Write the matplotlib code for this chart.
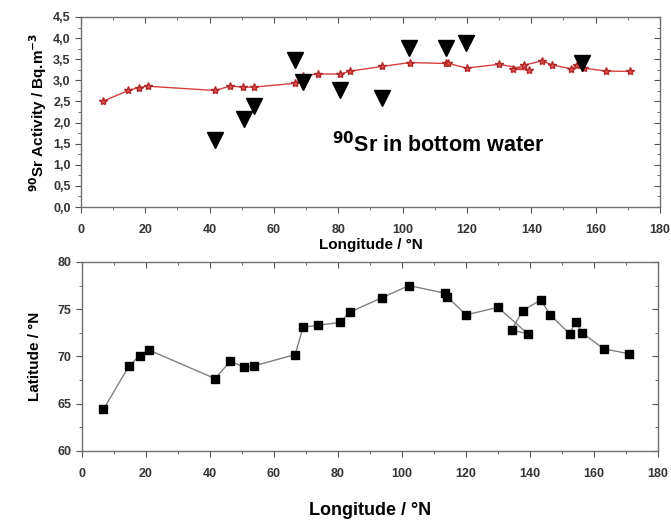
import numpy as np
import matplotlib
matplotlib.use('Agg')
import matplotlib.pyplot as plt
from matplotlib.ticker import MultipleLocator, FuncFormatter

plt.rcParams['font.family'] = ['Liberation Sans', 'DejaVu Sans']
plt.rcParams['font.weight'] = 'bold'

# station longitudes (in drawing order of the lines)
lon = [6.7, 14.7, 18.1, 20.8, 41.6, 46.3, 50.5, 53.75, 66.6, 69.1, 73.7, 80.6, 83.75,
       93.6, 102.2, 113.4, 114.2, 120.0, 130.0, 139.3, 134.3, 137.7, 143.4, 146.3,
       152.4, 154.3, 156.25, 163.1, 170.8]

# 90Sr activity (red stars)
sr_act = [2.50, 2.76, 2.83, 2.86, 2.76, 2.86, 2.84, 2.84, 2.93, 3.11, 3.15, 3.15, 3.22,
          3.33, 3.42, 3.40, 3.40, 3.29, 3.38, 3.25, 3.26, 3.36, 3.46, 3.37,
          3.27, 3.37, 3.29, 3.22, 3.21]

# latitude of the stations (squares)
lat = [64.4, 69.0, 70.1, 70.7, 67.65, 69.5, 68.9, 69.0, 70.2, 73.1, 73.3, 73.6, 74.7,
       76.2, 77.5, 76.7, 76.3, 74.4, 75.2, 72.4, 72.8, 74.85, 76.0, 74.4,
       72.4, 73.7, 72.5, 70.8, 70.3]

# 90Sr in bottom water (triangles)
bot_lon = [41.6, 50.8, 53.9, 66.5, 68.9, 80.5, 93.5, 102.0, 113.5, 119.7, 155.6]
bot_act = [1.59, 2.09, 2.39, 3.48, 2.97, 2.77, 2.58, 3.76, 3.76, 3.88, 3.40]

fig = plt.figure(figsize=(6.71, 5.23), dpi=100)
ax1 = fig.add_axes([0.1207, 0.6042, 0.8629, 0.3633])
ax2 = fig.add_axes([0.1222, 0.1377, 0.8584, 0.3614])

comma = FuncFormatter(lambda v, p: f'{v:.1f}'.replace('.', ','))

ax1.plot(lon, sr_act, color='#d84040', lw=1.0, marker='*', ms=6,
         mfc='#e05050', mec='#b02828', zorder=2)
ax1.plot(bot_lon, bot_act, ls='none', marker='v', ms=11, color='black', zorder=3)
ax1.text(78, 1.3, r'$^{\mathbf{90}}$Sr in bottom water', fontsize=15.5, fontweight='bold')
ax1.set_xlim(0, 180)
ax1.set_ylim(0, 4.5)
ax1.yaxis.set_major_locator(MultipleLocator(0.5))
ax1.yaxis.set_minor_locator(MultipleLocator(0.25))
ax1.yaxis.set_major_formatter(comma)
ax1.set_xlabel('Longitude / °N', fontsize=11, fontweight='bold', labelpad=2)
ax1.set_ylabel(r'$^{\mathbf{90}}$Sr Activity / Bq.m$^{\mathbf{-3}}$', fontsize=11,
               fontweight='bold', labelpad=3)

ax2.plot(lon, lat, color='#808080', lw=1.0, marker='s', ms=5.5,
         mfc='black', mec='black')
ax2.set_xlim(0, 180)
ax2.set_ylim(60, 80)
ax2.yaxis.set_major_locator(MultipleLocator(5))
ax2.yaxis.set_minor_locator(MultipleLocator(2.5))
ax2.set_xlabel('Longitude / °N', fontsize=13, fontweight='bold', labelpad=16)
ax2.set_ylabel('Latitude / °N', fontsize=11, fontweight='bold', labelpad=11)

for ax, ymaj, ymin in ((ax1, 0.5, 0.25), (ax2, 5, 2.5)):
    ax.xaxis.set_major_locator(MultipleLocator(20))
    ax.xaxis.set_minor_locator(MultipleLocator(10))
    for s in ax.spines.values():
        s.set_color('#707070')
        s.set_linewidth(1.0)
    ax.tick_params(which='both', direction='out', colors='#555555', labelcolor='#333333',
                   labelsize=9)
    ax.tick_params(which='major', length=4)
    ax.tick_params(which='minor', length=2)
    ax.tick_params(axis='x', which='major', pad=8)
    for lab in ax.get_xticklabels() + ax.get_yticklabels():
        lab.set_fontweight('bold')
    # mirrored ticks on top and right, pointing inwards
    sx = ax.secondary_xaxis('top')
    sx.xaxis.set_major_locator(MultipleLocator(20))
    sx.xaxis.set_minor_locator(MultipleLocator(10))
    sx.tick_params(which='major', direction='in', length=4, labeltop=False, colors='#555555')
    sx.tick_params(which='minor', direction='in', length=2, colors='#555555')
    sx.spines['top'].set_visible(False)
    sy = ax.secondary_yaxis('right')
    sy.yaxis.set_major_locator(MultipleLocator(ymaj))
    sy.yaxis.set_minor_locator(MultipleLocator(ymin))
    sy.tick_params(which='major', direction='in', length=4, labelright=False, colors='#555555')
    sy.tick_params(which='minor', direction='in', length=2, colors='#555555')
    sy.spines['right'].set_visible(False)

fig.savefig('out.png', dpi=100)
